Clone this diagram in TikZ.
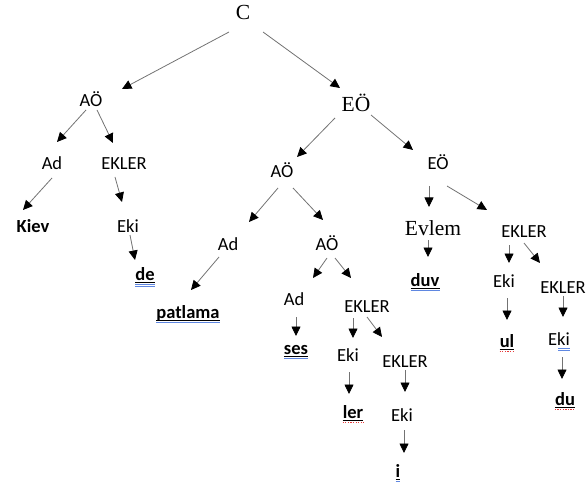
\documentclass[tikz,border=0pt]{standalone}
\usepackage{fontspec}
\setmainfont{Carlito}
\newfontfamily\tms{Liberation Serif}
\usetikzlibrary{arrows.meta,calc}
\newcommand\conn[4]{\draw[arr] ([shift={#2}]#1.base) -- ([shift={#4}]#3.base);}
\newcommand\wline[3]{\draw[#1] ($(#2.base -| #2.west)+(0,#3)$) -- ($(#2.base -| #2.east)+(0,#3)$);}
\begin{document}
\begin{tikzpicture}[x=1pt,y=-1pt,
  lbl/.style={anchor=base,inner xsep=0pt,inner ysep=1pt,font=\fontsize{18.5}{20}\selectfont},
  srf/.style={anchor=base,inner xsep=0pt,inner ysep=1pt,font=\tms\fontsize{21.5}{24}\selectfont},
  leaf/.style={lbl,font=\bfseries\fontsize{18.5}{20}\selectfont},
  arr/.style={draw=black!55,line width=0.8pt,-{Triangle[length=9.5pt,width=9pt,color=black]}},
  uline/.style={draw=black,line width=0.8pt},
  blueline/.style={draw={rgb,255:red,95;green,135;blue,225},line width=0.8pt},
  reddots/.style={draw={rgb,255:red,230;green,60;blue,60},line width=1pt,dash pattern=on 1.3pt off 1.3pt}
]
\useasboundingbox (0,0) rectangle (588,486);
% nodes
\node[srf] (C) at (243,20) {C};
\node[lbl] (aoL) at (91,107) {AÖ};
\node[srf] (eoT) at (356,112) {EÖ};
\node[lbl] (adL) at (52,170) {Ad};
\node[lbl] (ekL) at (124,170) {EKLER};
\node[leaf] (kiev) at (33,232) {Kiev};
\node[lbl] (ekiL) at (128,232) {Eki};
\node[leaf] (de) at (145,280) {de};
\node[lbl] (aoM) at (282,178) {AÖ};
\node[lbl] (eoR) at (438,170) {EÖ};
\node[lbl] (adM) at (228,250) {Ad};
\node[lbl] (aoLo) at (327,250) {AÖ};
\node[leaf] (patlama) at (188,318) {patlama};
\node[lbl] (adS) at (294,305) {Ad};
\node[leaf] (ses) at (296,354) {ses};
\node[lbl] (ekM) at (367,312) {EKLER};
\node[lbl] (ekiM) at (348,361) {Eki};
\node[leaf] (ler) at (353,418) {ler};
\node[lbl] (ekLo) at (405,367) {EKLER};
\node[lbl] (ekiLo) at (402,421) {Eki};
\node[leaf] (i) at (398,477) {i};
\node[srf] (evlem) at (433,236) {Evlem};
\node[lbl] (ekR) at (524,237) {EKLER};
\node[leaf] (duv) at (425,286) {duv};
\node[lbl] (ekiR) at (504,287) {Eki};
\node[lbl] (ekFR) at (563,293) {EKLER};
\node[leaf] (ul) at (507,347) {ul};
\node[lbl] (ekiFR) at (559,345) {Eki};
\node[leaf] (du) at (565,405) {du};
% connectors
\conn{C}{(-14,12)}{aoL}{(31,-18)}
\conn{C}{(20,12)}{eoT}{(-16,-24)}
\conn{aoL}{(-5,3)}{adL}{(5,-28)}
\conn{aoL}{(6,3)}{ekL}{(-11,-27)}
\conn{adL}{(0,8)}{kiev}{(-10,-22)}
\conn{ekL}{(-9,7)}{ekiL}{(-6,-30)}
\conn{ekiL}{(2,3)}{de}{(-10,-20)}
\conn{eoT}{(-21,6)}{aoM}{(15,-21)}
\conn{eoT}{(15,3)}{eoR}{(-25,-20)}
\conn{aoM}{(-4,10)}{adM}{(21,-28)}
\conn{aoM}{(11,10)}{aoLo}{(-4,-30)}
\conn{adM}{(-9,7)}{patlama}{(3,-28)}
\conn{aoLo}{(0,8)}{adS}{(19,-27)}
\conn{aoLo}{(8,8)}{ekM}{(-16,-34)}
\conn{adS}{(2,12)}{ses}{(0,-18)}
\conn{ekM}{(-14,6)}{ekiM}{(5,-23)}
\conn{ekM}{(0,5)}{ekLo}{(-23,-30)}
\conn{ekiM}{(1,11)}{ler}{(-4,-24)}
\conn{ekLo}{(0,3)}{ekiLo}{(3,-29)}
\conn{ekiLo}{(2,9)}{i}{(6,-24)}
\conn{eoR}{(-9,16)}{evlem}{(-4,-29)}
\conn{eoR}{(9,16)}{ekR}{(-37,-27)}
\conn{evlem}{(-5,4)}{duv}{(3,-29)}
\conn{ekR}{(-15,8)}{ekiR}{(5,-24)}
\conn{ekR}{(0,6)}{ekFR}{(-23,-30)}
\conn{ekiR}{(3,11)}{ul}{(0,-27)}
\conn{ekFR}{(0,3)}{ekiFR}{(4,-28)}
\conn{ekiFR}{(3,12)}{du}{(-3,-26)}
% underlines
\wline{uline}{de}{2}
\wline{blueline}{de}{4.2}
\wline{blueline}{de}{6.2}
\wline{uline}{patlama}{2}
\wline{blueline}{patlama}{4.2}
\wline{uline}{ses}{2}
\wline{blueline}{ses}{4.2}
\wline{uline}{duv}{2}
\wline{blueline}{duv}{4.2}
\wline{uline}{ler}{2}
\wline{reddots}{ler}{4.4}
\wline{uline}{i}{2}
\wline{blueline}{i}{4.2}
\wline{uline}{ul}{2}
\wline{reddots}{ul}{4.4}
\wline{uline}{du}{2}
\wline{reddots}{du}{4.4}
\draw[blueline] ($(ekiFR.base -| ekiFR.east)+(-12,3)$) -- ($(ekiFR.base -| ekiFR.east)+(0,3)$);
\draw[blueline] ($(ekiFR.base -| ekiFR.east)+(-12,5)$) -- ($(ekiFR.base -| ekiFR.east)+(0,5)$);
\end{tikzpicture}
\end{document}
